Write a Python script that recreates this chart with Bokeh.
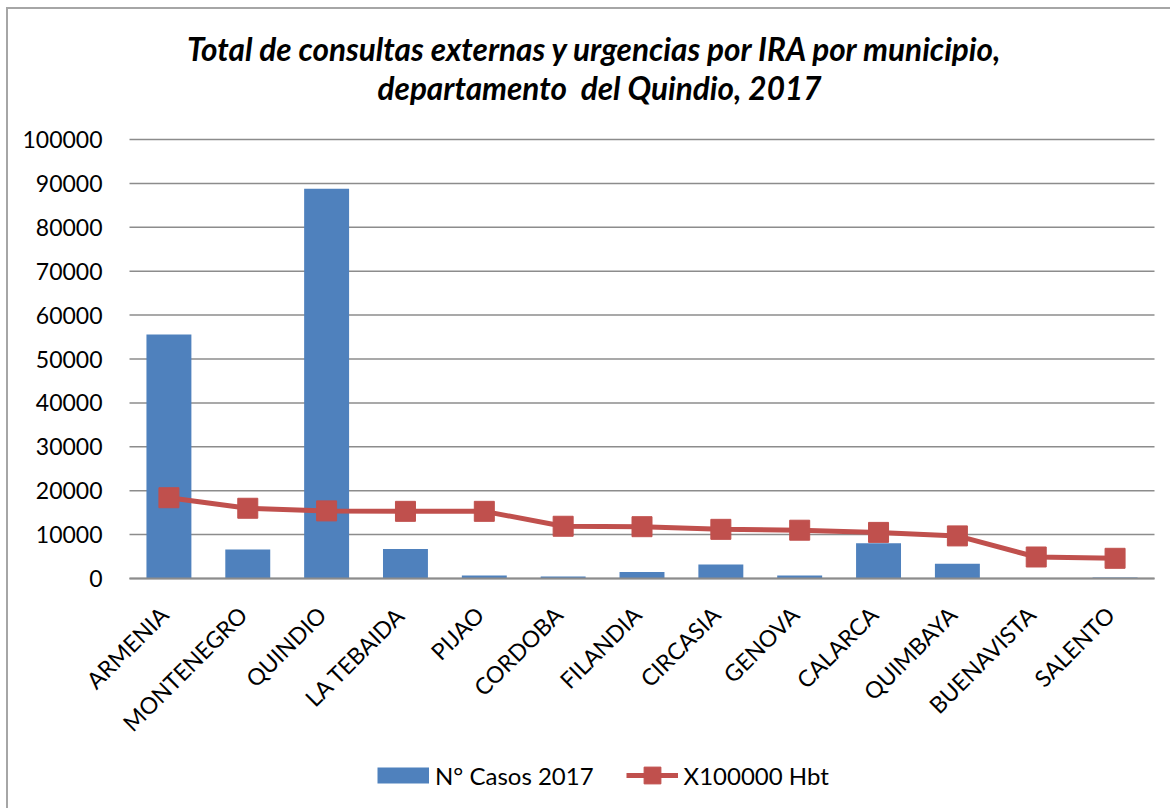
from bokeh.plotting import figure
from bokeh.models import Range1d, Legend, LegendItem, Label
from bokeh.core.properties import value
from bokeh.embed import file_html
from bokeh.resources import INLINE
from math import pi

# Consultas externas y urgencias por IRA, Quindío 2017
municipios = ["ARMENIA", "MONTENEGRO", "QUINDIO", "LA TEBAIDA", "PIJAO", "CORDOBA",
              "FILANDIA", "CIRCASIA", "GENOVA", "CALARCA", "QUIMBAYA", "BUENAVISTA", "SALENTO"]
casos_2017 = [55600, 6600, 88800, 6700, 700, 450, 1500, 3200, 700, 8050, 3350, 20, 200]
tasa_100000 = [18400, 16000, 15400, 15300, 15300, 11900, 11800, 11200, 11000, 10500, 9700, 4900, 4600]
ticks_y = [0, 10000, 20000, 30000, 40000, 50000, 60000, 70000, 80000, 90000, 100000]

titulo_1 = "Total de consultas externas y urgencias por IRA por municipio,"
titulo_2 = "departamento\u00a0 del Quindio, 2017"
serie_barras = "N° Casos 2017"
serie_linea = "X100000 Hbt"

FONT = "Lato"
BLUE = "#4F81BD"
RED = "#C0504D"
GRID = "#8C8C8C"

# canvas geometry in px: the chart body sits in a 1025 x 439 px box whose
# top-left corner is at (121, 130); the rest of the canvas holds the labels
W, H = 1164, 801
BODY_LEFT, BODY_W = 121, 1025
BODY_TOP, BODY_H = 130, 439

n = len(municipios)
cat_px = BODY_W / n
y_max = ticks_y[-1]
val_px = y_max / BODY_H
x_range = Range1d(-BODY_LEFT / cat_px, n + (W - BODY_LEFT - BODY_W) / cat_px)
y_range = Range1d(-(H - BODY_TOP - BODY_H) * val_px, y_max + BODY_TOP * val_px)

# category centres on the numeric x scale
x_cat = [i + 0.5 for i in range(n)]

p = figure(
    x_range=x_range, y_range=y_range,
    width=W, height=H,
    output_backend="svg", toolbar_location=None,
    min_border=0,
    x_axis_location=None, y_axis_location=None,
    margin=(7, 0, 0, 6),
    styles={"border-left": "2px solid #a6a6a6", "border-top": "2px solid #a6a6a6"},
)
p.title = None
p.outline_line_color = None
p.grid.visible = False

# horizontal gridlines across the chart body
p.segment(x0=[0] * len(ticks_y), x1=[n] * len(ticks_y), y0=ticks_y, y1=ticks_y,
          line_color=GRID, line_width=1.5)

bars = p.vbar(x=x_cat, top=casos_2017, width=0.57, fill_color=BLUE, line_color=None)

# category axis baseline
p.segment(x0=[0], x1=[n], y0=[0], y1=[0], line_color=GRID, line_width=2)

linea = p.line(x=x_cat, y=tasa_100000, line_color=RED, line_width=5)
puntos = p.scatter(x=x_cat, y=tasa_100000, marker="square", size=20,
                   fill_color=RED, line_color=RED)

# value labels at the left of the body
p.text(x=[0] * len(ticks_y), y=ticks_y, text=[str(t) for t in ticks_y],
       x_offset=-27, text_align="right", text_baseline="middle",
       text_font=value(FONT), text_font_size="23px", text_color="black")

# municipality names, slanted under the baseline
p.text(x=x_cat, y=[0] * n, text=municipios, angle=pi / 4,
       x_offset=-5, y_offset=32, text_align="right", text_baseline="middle",
       text_font=value(FONT), text_font_size="23px", text_color="black")

# two-line title
for txt, sx, sy in [(titulo_1, 587, 762), (titulo_2, 591, 723)]:
    p.add_layout(Label(x=sx, y=sy, x_units="screen", y_units="screen", text=txt,
                       text_align="center", text_baseline="middle", text_font=FONT,
                       text_font_style="bold italic", text_font_size="31.5px",
                       text_color="black"))

# legend swatch for the bars: the bar series as a thick blue stroke, kept hidden
# in the chart so that only its legend entry is drawn
muestra_barras = p.line(x=x_cat, y=casos_2017, line_color=BLUE, line_width=16,
                        line_cap="butt", visible=False)

legend = Legend(
    items=[LegendItem(label=serie_barras, renderers=[muestra_barras]),
           LegendItem(label=serie_linea, renderers=[linea, puntos])],
    orientation="horizontal", location=(369, 14),
    border_line_color=None, background_fill_alpha=0,
    inactive_fill_alpha=0,
    label_text_font=FONT, label_text_font_size="24px", label_text_color="black",
    glyph_width=52, glyph_height=42, label_standoff=6, spacing=32,
    padding=0, margin=0,
)
p.add_layout(legend, "center")

open("out.html", "w").write(file_html(p, INLINE))
